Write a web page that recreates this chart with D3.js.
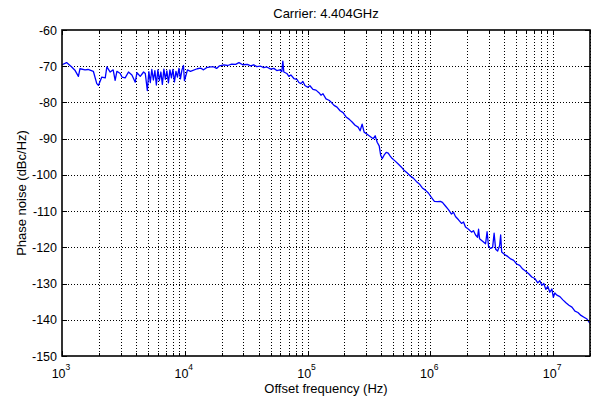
<!DOCTYPE html>
<html>
<head>
<meta charset="utf-8">
<script src="https://cdn.jsdelivr.net/npm/d3@7"></script>
<style>
    body { margin: 0; background: #fff; }
    svg { display: block; font-family: "Liberation Sans", Arial, sans-serif; }
</style>
</head>
<body>
<svg id="chart" width="593" height="397"></svg>
<script>
const titleText = 'Carrier: 4.404GHz';
const xLabelText = 'Offset frequency (Hz)';
const yLabelText = 'Phase noise (dBc/Hz)';

const yTicks = [-150, -140, -130, -120, -110, -100, -90, -80, -70, -60];
const xDecades = [1e3, 1e4, 1e5, 1e6, 1e7];
const xDomain = [1e3, 2e7];

// offset frequency (Hz)
const offsetHz = [
    1000, 1090, 1200, 1280, 1360, 1400, 1540, 1630, 1800, 1920,
    1980, 2110, 2250, 2320, 2470, 2610, 2710, 2800, 2980, 3080,
    3270, 3480, 3710, 3950, 4080, 4340, 4620, 4770, 4955, 5100,
    5240, 5390, 5550, 5710, 5870, 6040, 6210, 6390, 6570, 6760,
    6950, 7150, 7360, 7570, 7790, 8010, 8240, 8480, 8720, 8970,
    9220, 9490, 9760, 9940, 10230, 10520, 11130, 12630, 13440, 14220,
    15040, 16230, 17270, 18170, 19220, 20840, 22340, 24090, 25970, 27640,
    29630, 32370, 34450, 36450, 38580, 41590, 44000, 46560, 50200, 53120,
    56220, 59480, 61760, 62930, 64120, 67840, 70440, 73140, 77420, 81900,
    85050, 88310, 91700, 95220, 100180, 104600, 110700, 117200, 123900, 128700,
    133600, 141400, 149600, 155400, 164400, 173900, 184100, 194800, 206100, 218000,
    230700, 244100, 258300, 268200, 278500, 289200, 305900, 323700, 342600, 355700,
    369300, 383600, 394600, 405800, 421400, 437500, 454300, 471700, 489900, 518200,
    548500, 580200, 614100, 649900, 687600, 727500, 769800, 814400, 861700, 912000,
    964900, 1021000, 1080000, 1143000, 1209000, 1256000, 1329000, 1406000, 1488000, 1545000,
    1604000, 1698000, 1796000, 1865000, 1936000, 2049000, 2168000, 2251000, 2338000, 2427000,
    2474000, 2520000, 2667000, 2821000, 2902000, 2986000, 3100000, 3219000, 3311000, 3407000,
    3538000, 3673000, 3743000, 3814000, 4036000, 4270000, 4518000, 4781000, 5058000, 5352000,
    5664000, 5993000, 6341000, 6710000, 7100000, 7512000, 7802000, 8099000, 8410000, 8731000,
    9068000, 9415000, 9777000, 10060000, 10340000, 10740000, 11370000, 12030000, 12730000, 13470000,
    14250000, 15080000, 15950000, 16880000, 17860000, 18900000, 20000000
];

// phase noise (dBc/Hz) at each offset
const noiseDbc = [
    -69.6, -69.0, -70.2, -71.2, -72.8, -70.7, -71.0, -70.9, -71.4, -74.8,
    -75.3, -73.0, -73.2, -70.2, -71.6, -71.0, -73.9, -71.4, -72.0, -73.0,
    -73.2, -71.6, -72.4, -74.4, -71.8, -72.8, -71.6, -72.0, -76.7, -71.5,
    -74.5, -70.9, -73.8, -71.2, -75.2, -71.0, -74.0, -71.6, -75.0, -70.8,
    -73.6, -71.3, -74.6, -71.0, -73.2, -70.9, -74.3, -71.4, -73.0, -70.6,
    -73.5, -71.0, -69.8, -74.0, -72.5, -71.0, -71.4, -70.7, -70.5, -71.0,
    -70.4, -70.2, -70.2, -70.6, -69.9, -69.6, -69.8, -69.4, -69.5, -69.0,
    -69.6, -69.5, -69.9, -69.6, -70.1, -70.0, -70.4, -70.2, -70.8, -70.6,
    -71.2, -71.0, -71.5, -68.6, -71.6, -72.0, -72.8, -72.4, -73.4, -73.6,
    -74.5, -74.8, -74.2, -75.3, -75.8, -75.4, -76.4, -76.6, -77.3, -78.0,
    -77.6, -79.0, -79.4, -79.9, -80.8, -81.3, -82.3, -82.8, -84.0, -84.6,
    -85.4, -86.3, -86.8, -87.8, -86.0, -88.2, -88.8, -89.4, -90.0, -89.2,
    -91.0, -92.0, -94.6, -95.5, -94.5, -93.8, -94.0, -94.8, -95.5, -96.2,
    -97.0, -97.8, -98.8, -99.5, -100.3, -100.9, -101.8, -102.5, -103.6, -104.2,
    -105.0, -106.2, -107.3, -107.4, -107.3, -107.6, -108.6, -109.6, -110.8, -110.3,
    -111.5, -112.4, -113.4, -113.0, -114.4, -115.0, -115.8, -115.4, -116.6, -117.2,
    -115.0, -117.6, -118.3, -119.0, -115.7, -119.8, -120.3, -120.0, -116.1, -120.5,
    -121.0, -119.5, -116.6, -121.3, -122.0, -122.5, -123.2, -123.6, -124.6, -125.0,
    -126.0, -126.6, -127.3, -128.2, -128.6, -129.8, -129.2, -130.5, -130.0, -131.6,
    -130.8, -132.4, -131.5, -133.8, -132.6, -133.2, -133.6, -134.5, -135.3, -136.0,
    -136.5, -137.6, -138.0, -138.8, -139.3, -139.8, -141.0
];

const plot = {left: 62, right: 590, top: 30, bottom: 356};
const svg = d3.select('#chart');

const x = d3.scaleLog().domain(xDomain).range([plot.left, plot.right]);
const y = d3.scaleLinear().domain([-150, -60]).range([plot.bottom, plot.top]);

// every 1..9 step inside the decades for the log grid
const xGridValues = [];
xDecades.forEach(d => {
    for (let k = 1; k <= 9; k++) {
        const v = d * k;
        if (v >= xDomain[0] && v <= xDomain[1]) xGridValues.push(v);
    }
});

const grid = svg.append('g')
    .attr('stroke', '#000')
    .attr('stroke-width', 1)
    .attr('stroke-dasharray', '1,2')
    .attr('shape-rendering', 'crispEdges');

grid.selectAll('.vgrid')
    .data(xGridValues.filter(v => v > xDomain[0]))
    .join('line')
    .attr('x1', d => Math.round(x(d)) + 0.5)
    .attr('x2', d => Math.round(x(d)) + 0.5)
    .attr('y1', plot.top)
    .attr('y2', plot.bottom);

grid.selectAll('.hgrid')
    .data(yTicks.filter(v => v > -150 && v < -60))
    .join('line')
    .attr('x1', plot.left)
    .attr('x2', plot.right)
    .attr('y1', d => Math.round(y(d)) + 0.5)
    .attr('y2', d => Math.round(y(d)) + 0.5);

// trace
const line = d3.line()
    .x((d, i) => x(offsetHz[i]))
    .y(d => y(d));

svg.append('path')
    .datum(noiseDbc)
    .attr('d', line)
    .style('fill', 'none')
    .style('stroke', '#0000ff')
    .style('stroke-width', 1.3)
    .style('stroke-linejoin', 'round');

// inward ticks
const ticks = svg.append('g').attr('stroke', '#000').attr('stroke-width', 1)
    .attr('shape-rendering', 'crispEdges');

xGridValues.forEach(v => {
    const len = xDecades.includes(v) ? 5 : 3;
    const px = Math.round(x(v)) + 0.5;
    ticks.append('line').attr('x1', px).attr('x2', px)
        .attr('y1', plot.bottom).attr('y2', plot.bottom - len);
    ticks.append('line').attr('x1', px).attr('x2', px)
        .attr('y1', plot.top).attr('y2', plot.top + len);
});

yTicks.forEach(v => {
    const py = Math.round(y(v)) + 0.5;
    ticks.append('line').attr('x1', plot.left).attr('x2', plot.left + 5)
        .attr('y1', py).attr('y2', py);
    ticks.append('line').attr('x1', plot.right).attr('x2', plot.right - 5)
        .attr('y1', py).attr('y2', py);
});

// axes box
svg.append('rect')
    .attr('x', plot.left)
    .attr('y', plot.top)
    .attr('width', plot.right - plot.left)
    .attr('height', plot.bottom - plot.top)
    .style('fill', 'none')
    .style('stroke', '#000')
    .style('stroke-width', 1.6);

// y tick labels
svg.append('g').selectAll('text')
    .data(yTicks)
    .join('text')
    .attr('x', plot.left - 5)
    .attr('y', d => y(d))
    .attr('dy', '0.36em')
    .attr('text-anchor', 'end')
    .style('font-size', '12.5px')
    .text(d => d);

// x tick labels as 10 with superscript exponent
const xl = svg.append('g').selectAll('text')
    .data(xDecades)
    .join('text')
    .attr('x', d => x(d) - 1)
    .attr('y', 378)
    .attr('text-anchor', 'middle')
    .style('font-size', '12.5px');
xl.append('tspan').text('10');
xl.append('tspan')
    .attr('dy', -8)
    .style('font-size', '8.5px')
    .text(d => Math.round(Math.log10(d)));

// title and axis labels
svg.append('text')
    .attr('x', (plot.left + plot.right) / 2)
    .attr('y', 18)
    .attr('text-anchor', 'middle')
    .style('font-size', '13px')
    .text(titleText);

svg.append('text')
    .attr('x', (plot.left + plot.right) / 2)
    .attr('y', 393)
    .attr('text-anchor', 'middle')
    .style('font-size', '13px')
    .text(xLabelText);

svg.append('text')
    .attr('transform', 'rotate(-90)')
    .attr('x', -(plot.top + plot.bottom) / 2)
    .attr('y', 26)
    .attr('text-anchor', 'middle')
    .style('font-size', '13px')
    .text(yLabelText);
</script>
</body>
</html>
